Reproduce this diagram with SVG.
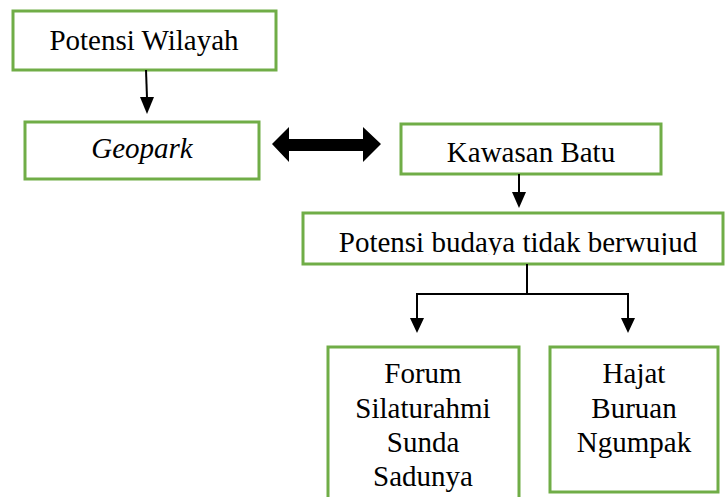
<svg xmlns="http://www.w3.org/2000/svg" width="725" height="497" viewBox="0 0 725 497">
  <style>
    .box { fill: #ffffff; stroke: #70ad47; stroke-width: 3; }
    .lbl { font-family: "Liberation Serif", "Times New Roman", serif; font-size: 29px; fill: #000000; text-anchor: middle; }
    .wire { fill: none; stroke: #000000; stroke-width: 2; }
    .head { fill: #000000; }
  </style>
  <defs>
    <!-- the long label sits low in its box and loses its descenders -->
    <clipPath id="clip-budaya">
      <rect x="303" y="213" width="420" height="42"/>
    </clipPath>
  </defs>
  <rect width="725" height="497" fill="#ffffff"/>

  <g id="potensi-wilayah">
    <rect class="box" x="13" y="11" width="263" height="59"/>
    <text class="lbl" x="144" y="50">Potensi Wilayah</text>
  </g>

  <g id="geopark">
    <rect class="box" x="25" y="122" width="234" height="57"/>
    <text class="lbl" x="142" y="158" font-style="italic">Geopark</text>
  </g>

  <g id="kawasan-batu">
    <rect class="box" x="401" y="124" width="260" height="50"/>
    <text class="lbl" x="531" y="162">Kawasan Batu</text>
  </g>

  <g id="potensi-budaya">
    <rect class="box" x="303" y="213" width="420" height="51"/>
    <text class="lbl" x="518" y="252" clip-path="url(#clip-budaya)">Potensi budaya tidak berwujud</text>
  </g>

  <g id="forum-silaturahmi">
    <rect class="box" x="328" y="347" width="191" height="160"/>
    <text class="lbl" x="423" y="383">Forum</text>
    <text class="lbl" x="423" y="418">Silaturahmi</text>
    <text class="lbl" x="423" y="452">Sunda</text>
    <text class="lbl" x="423" y="486">Sadunya</text>
  </g>

  <g id="hajat-buruan">
    <rect class="box" x="550" y="347" width="168" height="145"/>
    <text class="lbl" x="634" y="383">Hajat</text>
    <text class="lbl" x="634" y="418">Buruan</text>
    <text class="lbl" x="634" y="452">Ngumpak</text>
  </g>

  <g id="connectors">
    <!-- Potensi Wilayah to Geopark -->
    <line class="wire" x1="146" y1="70" x2="147" y2="98"/>
    <polygon class="head" points="140,97 154,97 147,114"/>

    <!-- two-way link Geopark / Kawasan Batu -->
    <polygon class="head" points="272,144 289,127 289,139 363,139 363,127 381,144 363,162 363,151 289,151 289,162"/>

    <!-- Kawasan Batu to Potensi budaya -->
    <line class="wire" x1="519" y1="174" x2="519" y2="193"/>
    <polygon class="head" points="512,192 526,192 519,208"/>

    <!-- split to the two traditions -->
    <line class="wire" x1="527" y1="264" x2="527" y2="294"/>
    <polyline class="wire" points="417,320 417,294 628,294 628,320"/>
    <polygon class="head" points="410,318 424,318 417,333"/>
    <polygon class="head" points="621,318 635,318 628,333"/>
  </g>
</svg>
